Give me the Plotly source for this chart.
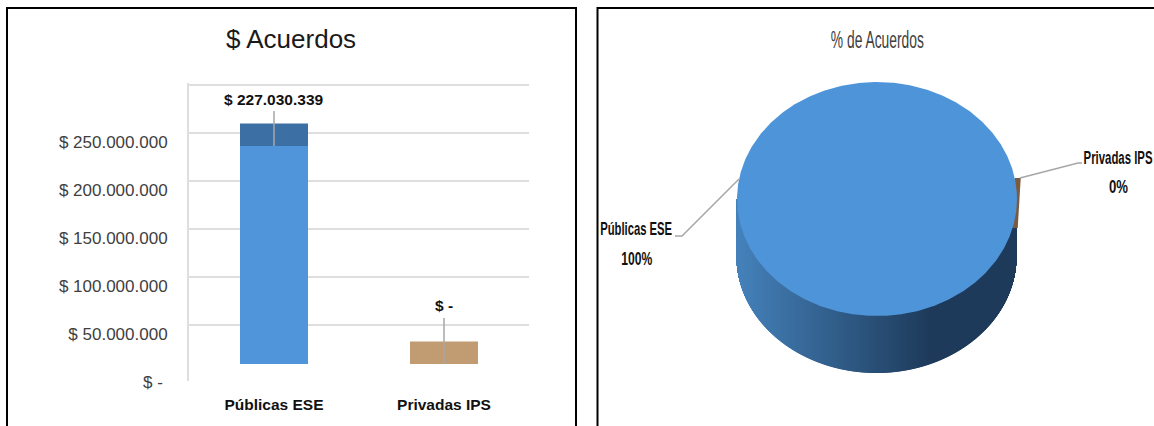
import json
import numpy as np
import plotly.graph_objects as go

# ---- data ----
categories = ["Públicas ESE", "Privadas IPS"]
acuerdos = [227030339, 0]
porcentajes = [100, 0]
y_ticks = [0, 50000000, 100000000, 150000000, 200000000, 250000000, 300000000]
y_labels = ["$ -\u00a0", "$ 50.000.000", "$ 100.000.000", "$ 150.000.000",
            "$ 200.000.000", "$ 250.000.000", ""]
bar_labels = ["$ 227.030.339", "$ -"]

# ---- 3D look of the bars, in axis units ----
FLOOR = 9400000
DEPTH = 23500000
FRONT = ["#5095DA", "#C19B72"]
TOP = ["#3C70A4", "#C19B72"]

W, H = 1154, 426
FONT = "Liberation Sans"
LEADER = "#A6A6A6"

# ---- 3D look of the pie, in picture pixels ----
CX, CY, RX, RY, THICK = 877, 199, 140, 117, 57


def px(x):
    return x / W


def py(y):
    return 1 - y / H


fig = go.Figure()

# left: bars
fig.add_trace(go.Bar(x=categories, y=acuerdos, base=FLOOR, marker=dict(color=FRONT, line_width=0),
                     xaxis="x", yaxis="y", showlegend=False))
fig.add_trace(go.Bar(x=categories, y=[DEPTH] * 2, base=[FLOOR + v for v in acuerdos],
                     marker=dict(color=TOP, line_width=0), xaxis="x", yaxis="y", showlegend=False))

# right: pie side as 1px slats with a gradient
slat_x = np.arange(CX - RX, CX + RX) + 0.5
t = (slat_x - (CX - RX)) / (2 * RX)
left_c, right_c = np.array([0x45, 0x82, 0xBC]), np.array([0x1E, 0x3A, 0x5A])
mix = np.clip(t / 0.70, 0, 1)[:, None]
cols = (left_c * (1 - mix) + right_c * mix).astype(int)
slat_colors = [f"rgb({r},{g},{b})" for r, g, b in cols]
half = RY * np.sqrt(1 - ((slat_x - CX) / RX) ** 2)
fig.add_trace(go.Bar(x=slat_x, y=half + THICK, base=CY, width=1.02,
                     marker=dict(color=slat_colors, line_width=0),
                     xaxis="x2", yaxis="y2", showlegend=False, hoverinfo="skip"))

# sliver of the (near) 0 % slice
a0 = np.arcsin(21 / RY)
sx = CX + RX * np.cos(a0)
sy = CY - RY * np.sin(a0)
fig.add_trace(go.Scatter(x=[sx, sx + 6, sx + 3, sx - 3, sx], y=[sy, sy, sy + 50, sy + 50, sy],
                         mode="lines", fill="toself", fillcolor="#7A5B3E", line=dict(width=0),
                         xaxis="x2", yaxis="y2", showlegend=False, hoverinfo="skip"))

# pie top face: the slice spans the share of the first category
theta = np.linspace(0, 2 * np.pi * porcentajes[0] / 100, 721)
fig.add_trace(go.Scatter(x=CX + RX * np.cos(theta), y=CY + RY * np.sin(theta),
                         mode="lines", fill="toself", fillcolor="#4E94D9", line=dict(width=0),
                         xaxis="x2", yaxis="y2", showlegend=False, hoverinfo="skip"))

annotations = [
    dict(text="$ Acuerdos", x=px(291), y=py(39), xref="paper", yref="paper", showarrow=False,
         xanchor="center", yanchor="middle",
         font=dict(family=FONT, size=26, color="#1A1A1A")),
    dict(text="% de Acuerdos", x=px(877), y=py(40), xref="paper", yref="paper", showarrow=False,
         xanchor="center", yanchor="middle",
         font=dict(family=FONT, size=23, color="#404040")),
]
# bar data labels with leader lines
for cat, val, lab, off in zip(categories, acuerdos, bar_labels, [-47, -58]):
    annotations.append(dict(text=lab, x=cat, y=FLOOR + val, xref="x", yref="y",
                            ax=0, ay=off, showarrow=True, arrowhead=0, arrowwidth=1.5, startstandoff=2,
                            arrowcolor=LEADER,
                            font=dict(family=FONT, size=15.5, color="#111111", weight="bold")))
# pie labels
pie_lab = [(636, 228, 258), (1118, 157, 186)]
for cat, pct, (x, y1, y2) in zip(categories, porcentajes, pie_lab):
    annotations.append(dict(text=cat, x=x, y=y1, xref="x2", yref="y2", showarrow=False,
                            font=dict(family=FONT, size=18.5, color="#111111", weight="bold")))
    annotations.append(dict(text=f"{pct}%", x=x, y=y2, xref="x2", yref="y2", showarrow=False,
                            font=dict(family=FONT, size=18.5, color="#111111", weight="bold")))

frame = dict(color="#000000", width=2)
shapes = [
    dict(type="path", xref="paper", yref="paper", line=frame,
         path=f"M {px(7)} {py(430)} L {px(7)} {py(8)} L {px(576)} {py(8)} L {px(576)} {py(430)}"),
    dict(type="path", xref="paper", yref="paper", line=frame,
         path=f"M {px(597.5)} {py(430)} L {px(597.5)} {py(8)} L {px(1156)} {py(8)}"),
    dict(type="path", xref="x2", yref="y2", line=dict(color=LEADER, width=1.5),
         path="M 739 179 L 682 236 L 675 236"),
    dict(type="path", xref="x2", yref="y2", line=dict(color=LEADER, width=1.5),
         path="M 1020 178 L 1078 163 L 1082 163"),
]

fig.update_layout(
    width=W, height=H, margin=dict(l=0, r=0, t=0, b=0, pad=0, autoexpand=False),
    paper_bgcolor="white", plot_bgcolor="rgba(0,0,0,0)",
    barmode="overlay", bargap=0.6, showlegend=False,
    annotations=annotations, shapes=shapes,
    xaxis=dict(domain=[px(189), px(529)], anchor="y", type="category", categoryorder="array",
               categoryarray=categories, showgrid=False, showline=False, ticks="",
               ticklabelstandoff=12, tickfont=dict(family=FONT, size=15.5, color="#111111", weight="bold")),
    yaxis=dict(domain=[py(381), py(83.08)], anchor="x", range=[-8333333, 302000000],
               tickmode="array", tickvals=y_ticks, ticktext=y_labels, showgrid=True,
               gridcolor="#DEDEDE", gridwidth=1.5, zeroline=True, zerolinecolor="rgba(0,0,0,0)",
               showline=True, linecolor="#DEDEDE", linewidth=2, ticks="",
               ticklabelstandoff=16, ticklabelshift=9,
               tickfont=dict(family=FONT, size=17, color="#404040")),
    xaxis2=dict(domain=[px(597), 1], anchor="y2", range=[597, 1154], visible=False, showgrid=False),
    yaxis2=dict(domain=[0, py(8)], anchor="x2", range=[426, 8], visible=False, showgrid=False),
)

# the condensed look of the right-hand texts: real text, squeezed to the reference's widths
squeeze = {"% de Acuerdos": 93, "Públicas ESE": 72, "Privadas IPS": 69, "100%": 31, "0%": 19}
post = ("document.body.style.margin='0';document.body.style.overflow='hidden';"
        "var s=" + json.dumps(squeeze) + ";"
        "document.querySelectorAll('.annotation-text').forEach(function(t){"
        "var w=s[t.textContent];"
        "if(w){t.setAttribute('textLength',w);t.setAttribute('lengthAdjust','spacingAndGlyphs');}});")
fig.write_html("out.html", post_script=post, config={"displayModeBar": False})
